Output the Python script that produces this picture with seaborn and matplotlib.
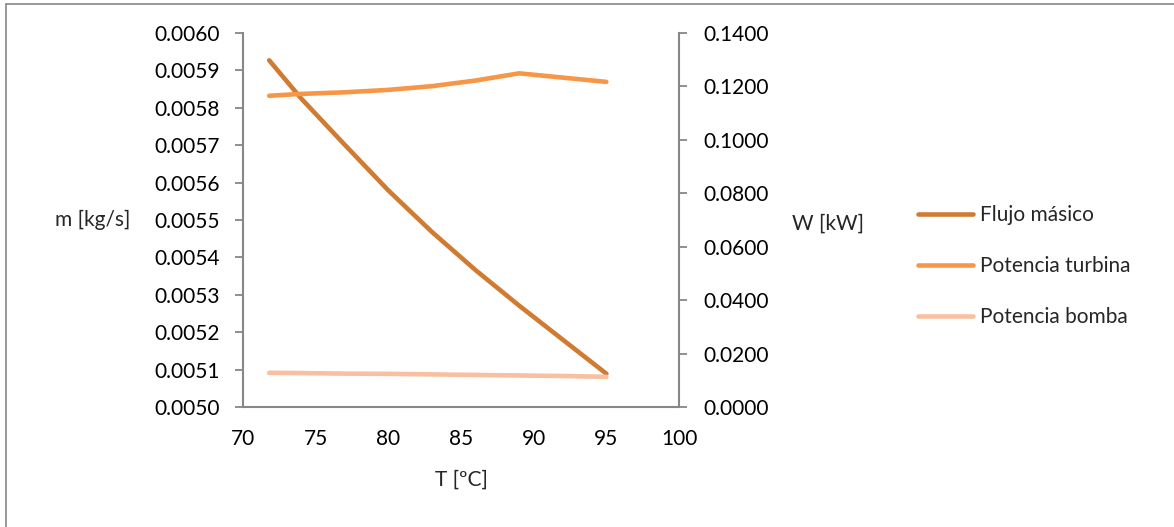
import matplotlib
matplotlib.use("Agg")
import matplotlib.pyplot as plt
import seaborn as sns
import pandas as pd
from matplotlib.lines import Line2D
from matplotlib.ticker import FormatStrFormatter

# Operating temperatures [ºC]
temperatura = [71.8, 74, 77, 80, 83, 86, 89, 92, 95]
# Mass flow [kg/s]
flujo_masico = [0.005927, 0.005825, 0.005701, 0.005579, 0.005468, 0.005366, 0.005271, 0.005180, 0.005089]
# Turbine power [kW]
potencia_turbina = [0.1165, 0.1172, 0.1178, 0.1187, 0.1201, 0.1222, 0.1249, 0.1233, 0.1217]
# Pump power [kW]
potencia_bomba = [0.0128, 0.0127, 0.0125, 0.0124, 0.0122, 0.0120, 0.0118, 0.0116, 0.0113]

series_names = ["Flujo másico", "Potencia turbina", "Potencia bomba"]
colors = ["#D07B32", "#F79646", "#F8BFA0"]

sns.set_theme(style="white")
plt.rcParams["font.family"] = ["Lato", "DejaVu Sans"]
FS = 15
GRAY = "#878787"

df = pd.DataFrame({
    "T": temperatura,
    series_names[0]: flujo_masico,
    series_names[1]: potencia_turbina,
    series_names[2]: potencia_bomba,
})

fig = plt.figure(figsize=(11.74, 5.27), dpi=100)
ax = fig.add_axes([0.207, 0.2277, 0.5784 - 0.207, 0.9374 - 0.2277])
ax2 = ax.twinx()

lw = 3.3
sns.lineplot(data=df, x="T", y=series_names[0], ax=ax, color=colors[0],
             linewidth=lw, solid_capstyle="round", solid_joinstyle="round",
             label=series_names[0], legend=False)
sns.lineplot(data=df, x="T", y=series_names[1], ax=ax2, color=colors[1],
             linewidth=lw, solid_capstyle="round", solid_joinstyle="round",
             label=series_names[1], legend=False)
sns.lineplot(data=df, x="T", y=series_names[2], ax=ax2, color=colors[2],
             linewidth=lw, solid_capstyle="round", solid_joinstyle="round",
             label=series_names[2], legend=False)

ax.set_xlim(70, 100)
ax.set_xticks(range(70, 101, 5))
ax.set_ylim(0.0050, 0.0060)
ax.set_yticks([0.0050 + i * 0.0001 for i in range(11)])
ax.yaxis.set_major_formatter(FormatStrFormatter("%.4f"))
ax2.set_ylim(0, 0.14)
ax2.set_yticks([i * 0.02 for i in range(8)])
ax2.yaxis.set_major_formatter(FormatStrFormatter("%.4f"))

for a in (ax, ax2):
    for s in a.spines.values():
        s.set_visible(False)
    a.grid(False)

ax.tick_params(axis="y", length=5.5, width=1.3, color=GRAY, labelsize=FS,
               labelcolor="black", direction="out", pad=11)
ax.tick_params(axis="x", length=5.5, width=1.3, color=GRAY, labelsize=FS,
               labelcolor="black", direction="out", pad=10)
ax2.tick_params(axis="y", length=5.5, width=1.3, color=GRAY, labelsize=FS,
                labelcolor="black", direction="out", pad=12)

ax.spines["left"].set_visible(True)
ax.spines["bottom"].set_visible(True)
ax2.spines["right"].set_visible(True)
for a, side in ((ax, "left"), (ax, "bottom"), (ax2, "right")):
    a.spines[side].set_color(GRAY)
    a.spines[side].set_linewidth(1.5)

ax.set_xlabel("T [ºC]", fontsize=FS)
ax.xaxis.set_label_coords(0.5, -0.168)
ax.set_ylabel("m [kg/s]", fontsize=FS, rotation=0, ha="right", va="center")
ax.yaxis.set_label_coords(-0.259, 0.5)
ax2.set_ylabel("W [kW]", fontsize=FS, rotation=0, ha="left", va="center")
ax2.yaxis.set_label_coords(1.259, 0.49)

handles = ax.get_lines()[:1] + ax2.get_lines()[:2]
fig.legend(handles, series_names, loc="center left", bbox_to_anchor=(0.782, 0.495),
           frameon=False, fontsize=FS, handlelength=2.65, handletextpad=0.33,
           labelspacing=1.5, borderpad=0, borderaxespad=0)

# Chart area frame (left and top edges)
fig.add_artist(Line2D([0.0055, 0.0055], [0.0, 0.992], transform=fig.transFigure,
                      color=GRAY, linewidth=1.2))
fig.add_artist(Line2D([0.0055, 1.0], [0.992, 0.992], transform=fig.transFigure,
                      color=GRAY, linewidth=1.2))

fig.savefig("out.png", dpi=100)
